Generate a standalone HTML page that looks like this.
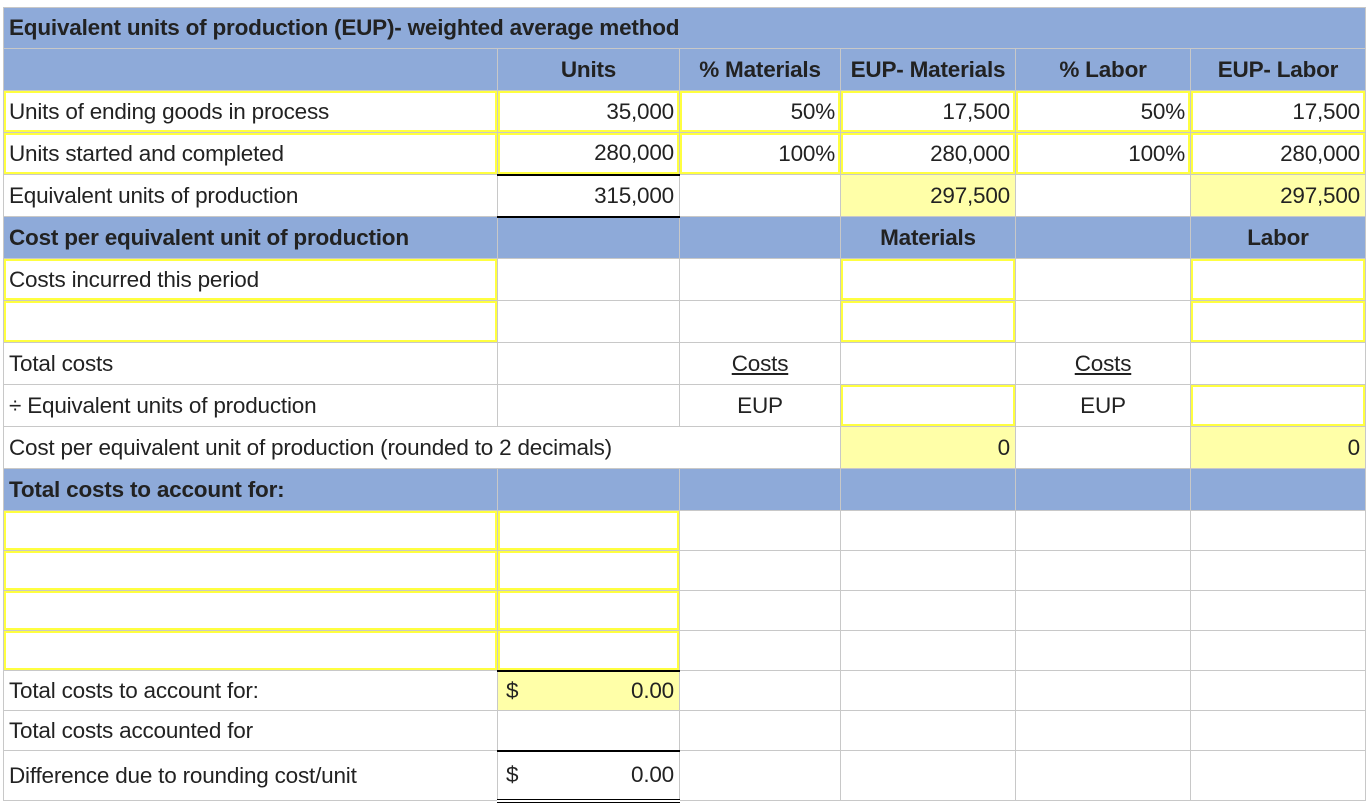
<!DOCTYPE html>
<html><head><meta charset="utf-8"><style>
body{margin:0;background:#fff;width:1367px;height:801px;overflow:hidden;font-family:"Liberation Sans",Arial,sans-serif;}
table{position:absolute;left:3px;top:7px;border-collapse:collapse;table-layout:fixed;font-size:22.5px;color:#222;letter-spacing:-0.2px;}
td{border:1px solid #c8c8c8;padding:0 5px;white-space:nowrap;overflow:visible;height:42px;box-sizing:border-box;}
.b{background:#8eaad9;}
.bt{font-weight:bold;}
.r{text-align:right;}
.c{text-align:center;}
.y{box-shadow:inset 0 0 0 2px #ffff40;}
.f{background:#ffffa8;}
.u{text-decoration:underline;}
.bk{border-bottom:2px solid #000;}
.dbl{border-bottom:4px double #000;}
tr.s td{height:40px;}
tr.t td{height:41px;}
</style></head><body>
<table>
<colgroup><col style="width:494px"><col style="width:182px"><col style="width:161px"><col style="width:175px"><col style="width:175px"><col style="width:175px"></colgroup>
<tr class="t"><td colspan="6" class="b bt">Equivalent units of production (EUP)- weighted average method</td></tr>
<tr class="bt"><td class="b"></td><td class="b c">Units</td><td class="b c">% Materials</td><td class="b c">EUP- Materials</td><td class="b c">% Labor</td><td class="b c">EUP- Labor</td></tr>
<tr><td class="y">Units of ending goods in process</td><td class="y r">35,000</td><td class="y r">50%</td><td class="y r">17,500</td><td class="y r">50%</td><td class="y r">17,500</td></tr>
<tr><td class="y">Units started and completed</td><td class="y r bk">280,000</td><td class="y r">100%</td><td class="y r">280,000</td><td class="y r">100%</td><td class="y r">280,000</td></tr>
<tr><td>Equivalent units of production</td><td class="r bk">315,000</td><td></td><td class="r f">297,500</td><td></td><td class="r f">297,500</td></tr>
<tr class="bt"><td class="b">Cost per equivalent unit of production</td><td class="b"></td><td class="b"></td><td class="b c">Materials</td><td class="b"></td><td class="b c">Labor</td></tr>
<tr><td class="y">Costs incurred this period</td><td></td><td></td><td class="y"></td><td></td><td class="y"></td></tr>
<tr><td class="y"></td><td></td><td></td><td class="y"></td><td></td><td class="y"></td></tr>
<tr><td>Total costs</td><td></td><td class="c"><span class="u">Costs</span></td><td></td><td class="c"><span class="u">Costs</span></td><td></td></tr>
<tr><td>÷ Equivalent units of production</td><td></td><td class="c">EUP</td><td class="y"></td><td class="c">EUP</td><td class="y"></td></tr>
<tr><td colspan="3" style="border-right:1px solid #c8c8c8">Cost per equivalent unit of production (rounded to 2 decimals)</td><td class="r f">0</td><td></td><td class="r f">0</td></tr>
<tr class="bt"><td class="b">Total costs to account for:</td><td class="b"></td><td class="b"></td><td class="b"></td><td class="b"></td><td class="b"></td></tr>
<tr class="s"><td class="y"></td><td class="y"></td><td></td><td></td><td></td><td></td></tr>
<tr class="s"><td class="y"></td><td class="y"></td><td></td><td></td><td></td><td></td></tr>
<tr class="s"><td class="y"></td><td class="y"></td><td></td><td></td><td></td><td></td></tr>
<tr class="s"><td class="y"></td><td class="y bk"></td><td></td><td></td><td></td><td></td></tr>
<tr class="s"><td>Total costs to account for:</td><td class="f"><span style="float:left;margin-left:3px">$</span><span style="float:right">0.00</span></td><td></td><td></td><td></td><td></td></tr>
<tr class="s"><td>Total costs accounted for</td><td class="bk"></td><td></td><td></td><td></td><td></td></tr>
<tr><td style="height:50px">Difference due to rounding cost/unit</td><td class="dbl"><span style="float:left;margin-left:3px">$</span><span style="float:right">0.00</span></td><td></td><td></td><td></td><td></td></tr>
</table>
</body></html>
